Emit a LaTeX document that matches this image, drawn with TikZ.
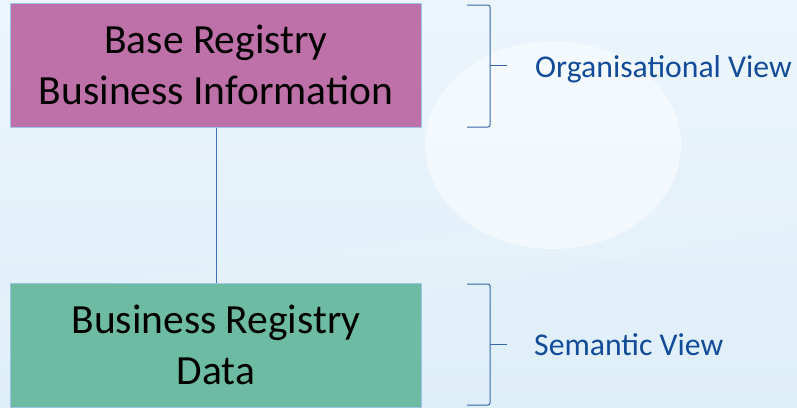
\documentclass[tikz,border=0pt]{standalone}
\usepackage{fontspec}
\setmainfont{Carlito}
\usetikzlibrary{positioning}
\definecolor{bgtop}{RGB}{236,245,252}
\definecolor{bgbot}{RGB}{222,238,248}
\definecolor{orgfill}{RGB}{190,112,168}
\definecolor{semfill}{RGB}{109,187,163}
\definecolor{boxline}{RGB}{157,195,230}
\definecolor{linkblue}{RGB}{68,114,196}
\definecolor{viewblue}{RGB}{18,76,152}
\tikzset{
  regbox/.style={draw=boxline, line width=1pt, minimum width=411pt, minimum height=124pt,
    align=center, inner sep=0pt, font=\fontsize{41.5}{51}\selectfont},
  bracket/.style={draw=viewblue!85, line width=1pt, rounded corners=2pt},
  viewlabel/.style={anchor=base west, text=viewblue, inner sep=0pt, font=\fontsize{31.7}{38}\selectfont},
  link/.style={draw=linkblue, line width=0.8pt}
}
\begin{document}
\begin{tikzpicture}[x=1pt, y=-1pt]
  % background
  \useasboundingbox (0,0) rectangle (797,407);
  \shade[top color=bgtop, bottom color=bgbot] (0,0) rectangle (797,407);
  \fill[white, opacity=0.08] (0,300) -- (797,180) -- (797,230) -- (0,360) -- cycle;
  \fill[white, opacity=0.5] (553,145) ellipse (128pt and 104pt);

  % the two boxes
  \node[regbox, fill=orgfill] (bri) at (216,65) {Base Registry\\Business Information};
  \node[regbox, fill=semfill] (brd) at (216,345) {Business Registry\\Data};
  \draw[link] (bri) -- (brd);

  % brackets on the right
  \draw[bracket] (467,5) -- (490,5) -- (490,127) -- (467,127);
  \draw[bracket] (490,65) -- (507,65);
  \draw[bracket] (467,284) -- (490,284) -- (490,405) -- (467,405);
  \draw[bracket] (490,344) -- (507,344);
  \node[viewlabel] (orgview) at (535,77) {Organisational View};
  \node[viewlabel] (semview) at (534,355) {Semantic View};
\end{tikzpicture}
\end{document}
